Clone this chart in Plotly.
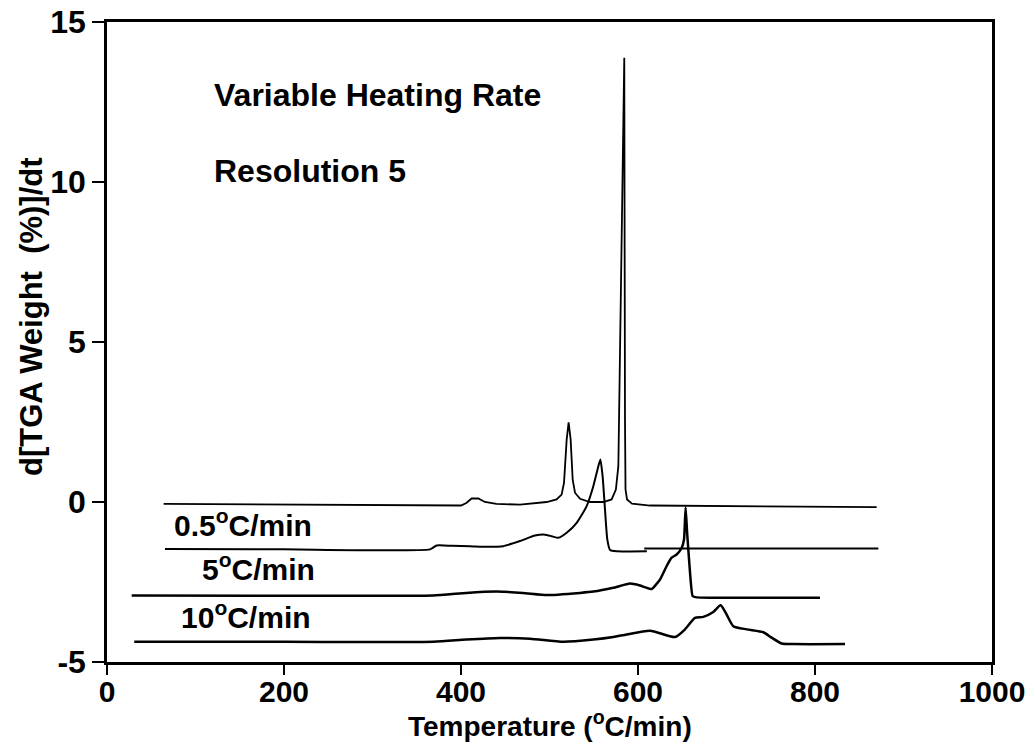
import plotly.graph_objects as go

# ---- data ----
x_a = [64, 200, 350, 400, 406, 412, 419.6, 427, 440, 466.7, 496.8, 508, 513.7, 516.4, 519.4,
       521.6, 523.9, 526.2, 528.8, 534.5, 545.8, 560.8, 570.2, 575, 577.8, 578.9, 584.5,
       585.3, 585.9, 587.6, 593.2, 613.6, 737.9, 869.7]
y_a = [-0.06, -0.08, -0.1, -0.11, -0.03, 0.11, 0.11, 0.0, -0.06, -0.08, 0.0, 0.08, 0.23, 0.6, 1.95,
       2.49, 1.95, 0.7, 0.29, 0.1, 0.0, 0.0, 0.08, 0.39, 1.12, 3.2, 13.88,
       2.58, 0.39, 0.08, -0.05, -0.11, -0.14, -0.16]

x_b = [65.5, 200, 365, 372.5, 390, 410, 429, 447.8, 466.7, 483.6, 494.9, 502.5, 510, 519.4,
       530.7, 542, 549.5, 555.2, 557.5, 560, 562.7, 565.3, 568.4, 575.9, 610, None, 607, 871.6]
y_b = [-1.47, -1.48, -1.48, -1.36, -1.37, -1.38, -1.4, -1.38, -1.22, -1.05, -1.02, -1.07, -1.12, -0.96,
       -0.65, -0.13, 0.49, 1.12, 1.33, 0.81, -0.23, -1.17, -1.5, -1.54, -1.54, None, -1.45, -1.45]

x_c = [27.9, 200, 368.7, 406, 440, 470, 496.8, 534.5, 549.5, 572.1, 591, 602.3, 615.4, 624.9,
       632.4, 638, 643.7, 649.4, 652, 653.8, 655.5, 658.8, 661.7, 666.2, 805.6]
y_c = [-2.92, -2.93, -2.92, -2.84, -2.8, -2.84, -2.91, -2.84, -2.8, -2.68, -2.55, -2.61, -2.72, -2.42,
       -2.0, -1.74, -1.64, -1.43, -1.17, -0.17, -0.96, -2.21, -2.94, -2.98, -2.99]

x_d = [30.8, 200, 368.7, 406, 444, 478, 515.6, 549.5, 572, 587.1, 613.6, 641.8, 653.1, 664.4,
       673.8, 685.1, 693.3, 700.2, 707.7, 722.8, 741.6, 751, 762.3, 775.5, 833.9]
y_d = [-4.37, -4.37, -4.37, -4.3, -4.25, -4.27, -4.37, -4.3, -4.22, -4.14, -4.02, -4.22, -3.98, -3.62,
       -3.59, -3.44, -3.23, -3.52, -3.88, -3.98, -4.07, -4.24, -4.42, -4.44, -4.44]

x_ticks = [0, 200, 400, 600, 800, 1000]
y_ticks = [-5, 0, 5, 10, 15]
y_tick_text = ["-5", "0", "5", "10", "15"]

FONT = "Liberation Sans, Arial, sans-serif"


def bold(size):
    return dict(family=FONT, size=size, color="black", weight="bold")


fig = go.Figure()
fig.add_trace(go.Scatter(x=x_a, y=y_a, mode="lines", line=dict(color="black", width=1.8), showlegend=False))
fig.add_trace(go.Scatter(x=x_b, y=y_b, mode="lines", line=dict(color="black", width=2, shape="spline", smoothing=0.5), showlegend=False))
fig.add_trace(go.Scatter(x=x_c, y=y_c, mode="lines", line=dict(color="black", width=2.5, shape="spline", smoothing=0.4), showlegend=False))
fig.add_trace(go.Scatter(x=x_d, y=y_d, mode="lines", line=dict(color="black", width=2.5, shape="spline", smoothing=0.6), showlegend=False))

annotations = [
    dict(x=118.5, y=12.73, text="Variable Heating Rate", xanchor="left", yanchor="middle", showarrow=False, font=bold(32)),
    dict(x=118.5, y=10.34, text="Resolution 5", xanchor="left", yanchor="middle", showarrow=False, font=bold(32)),
    dict(x=73, y=-0.67, text="0.5<sup>o</sup>C/min", xanchor="left", yanchor="middle", showarrow=False, font=bold(30)),
    dict(x=105, y=-2.03, text="5<sup>o</sup>C/min", xanchor="left", yanchor="middle", showarrow=False, font=bold(30)),
    dict(x=81.4, y=-3.53, text="10<sup>o</sup>C/min", xanchor="left", yanchor="middle", showarrow=False, font=bold(30)),
    dict(xref="paper", yref="paper", x=-0.0859, y=0.5406, text="d[TGA Weight  (%)]/dt", textangle=-90,
         xanchor="center", yanchor="middle", showarrow=False, font=bold(31)),
    dict(xref="paper", yref="paper", x=0.5, y=-0.0969, text="Temperature (<sup>o</sup>C/min)",
         xanchor="center", yanchor="middle", showarrow=False, font=bold(28)),
]

fig.update_layout(
    width=1035, height=746,
    margin=dict(l=107, r=43, t=22, b=84, autoexpand=False),
    paper_bgcolor="white", plot_bgcolor="white",
    annotations=annotations,
    xaxis=dict(range=[0, 1000], tickvals=x_ticks, ticks="outside", ticklen=10, tickwidth=2, tickcolor="black",
               showline=True, linewidth=2.5, linecolor="black", mirror=True, showgrid=False, zeroline=False,
               automargin=False, tickfont=bold(30), ticklabelstandoff=-9),
    yaxis=dict(range=[-5, 15], tickvals=y_ticks, ticktext=y_tick_text, ticks="outside", ticklen=12, tickwidth=2,
               tickcolor="black", showline=True, linewidth=2.5, linecolor="black", mirror=True, showgrid=False,
               zeroline=False, automargin=False, tickfont=bold(32)),
)

fig.write_html("out.html")
